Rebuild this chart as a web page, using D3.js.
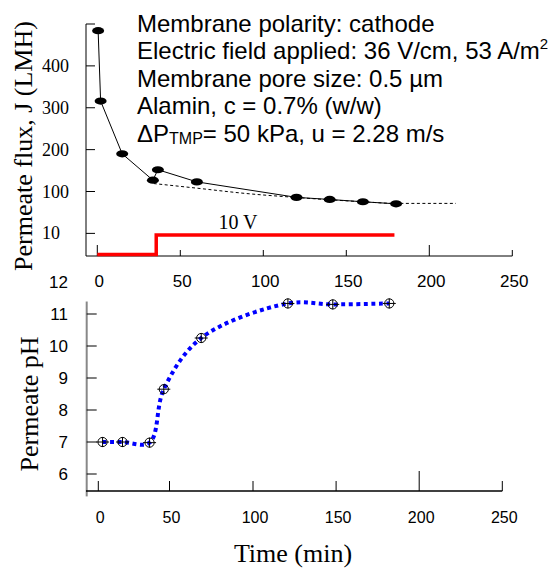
<!DOCTYPE html>
<html>
<head>
<meta charset="utf-8">
<script src="https://cdn.jsdelivr.net/npm/d3@7"></script>
<style>
  body { margin: 0; background: #fff; }
  svg { display: block; }
  .sans { font-family: "Liberation Sans", Arial, sans-serif; }
  .serif { font-family: "Liberation Serif", "Times New Roman", serif; }
</style>
</head>
<body>
<svg id="chart" width="552" height="570"></svg>
<script>
"use strict";

// flux panel
const fluxTime = [0.5, 2, 15, 33.5, 36.5, 60, 120, 140, 160, 180];
const fluxValue = [484, 316, 190, 127, 152, 123, 86, 81, 75.5, 70.6];
const fitTime = [34, 60, 89, 119, 137, 160, 180, 216];
const fitValue = [119, 108, 95.5, 86, 81, 75.5, 71.6, 71.6];
const voltTime = [0, 35.5, 35.5, 179];
const voltValue = [0, 0, 10, 10];
const fluxTicks = [0, 100, 200, 300, 400, 500];
const fluxTickLabels = ["10", "100", "200", "300", "400", ""];

// pH panel
const phTime = [3, 17, 36, 46, 69, 121, 148, 182];
const phValue = [7.0, 7.0, 6.98, 8.65, 10.25, 11.33, 11.3, 11.33];
const phTicks = [6, 7, 8, 9, 10, 11, 12];
const timeTicks = [0, 50, 100, 150, 200, 250];

const infoLines = [
    ["Membrane polarity: cathode"],
    ["Electric field applied: 36 V/cm, 53 A/m", "2"],
    ["Membrane pore size: 0.5 µm"],
    ["Alamin, c = 0.7% (w/w)"],
    ["ΔP", "TMP", "= 50 kPa, u = 2.28 m/s"],
];

const svg = d3.select("#chart");

// ---------- top panel ----------
const xTop = d3.scaleLinear().domain([0, 250]).range([97.3, 512.3]);
const yFlux = d3.scaleLinear().domain([-54, 500]).range([256, 24]);
const yVolt = d3.scaleLinear().domain([0, 10]).range([254.5, 235]);
const axisX0 = 86;

const fluxPanel = svg.append("g");

// axes
fluxPanel.append("line")
    .attr("x1", axisX0).attr("x2", axisX0)
    .attr("y1", yFlux(500)).attr("y2", yFlux(-54))
    .attr("stroke", "#000").attr("stroke-width", 1);
fluxPanel.append("line")
    .attr("x1", axisX0).attr("x2", xTop(250))
    .attr("y1", yFlux(-54)).attr("y2", yFlux(-54))
    .attr("stroke", "#000").attr("stroke-width", 1);

fluxPanel.selectAll(".ytick").data(fluxTicks).enter().append("line")
    .attr("x1", axisX0).attr("x2", axisX0 + 9)
    .attr("y1", d => yFlux(d)).attr("y2", d => yFlux(d))
    .attr("stroke", "#000");
fluxPanel.selectAll(".ylab").data(fluxTicks).enter().append("text")
    .attr("class", "serif")
    .attr("x", 42)
    .attr("y", d => yFlux(d) + 6)
    .attr("font-size", 18)
    .text((d, i) => fluxTickLabels[i]);

fluxPanel.selectAll(".xtick").data(timeTicks).enter().append("line")
    .attr("x1", d => xTop(d)).attr("x2", d => xTop(d))
    .attr("y1", yFlux(-54))
    .attr("y2", d => yFlux(-54) - (d === 0 || d === 200 ? 11 : 6))
    .attr("stroke", "#000");
fluxPanel.selectAll(".xlab").data(timeTicks).enter().append("text")
    .attr("class", "sans")
    .attr("x", d => xTop(d) + 2)
    .attr("y", 287)
    .attr("text-anchor", "middle")
    .attr("font-size", 17)
    .text(d => d);

// red voltage step
fluxPanel.append("path")
    .datum(voltTime.map((t, i) => [t, voltValue[i]]))
    .attr("d", d3.line().x(d => xTop(d[0])).y(d => yVolt(d[1])))
    .attr("fill", "none")
    .attr("stroke", "#ff0000")
    .attr("stroke-width", 3.5);

fluxPanel.append("text")
    .attr("class", "serif")
    .attr("x", 238).attr("y", 229)
    .attr("text-anchor", "middle")
    .attr("font-size", 20)
    .text("10 V");

// dashed fit
fluxPanel.append("path")
    .datum(fitTime.map((t, i) => [t, fitValue[i]]))
    .attr("d", d3.line().curve(d3.curveMonotoneX).x(d => xTop(d[0])).y(d => yFlux(d[1])))
    .attr("fill", "none")
    .attr("stroke", "#000")
    .attr("stroke-width", 1)
    .attr("stroke-dasharray", "3,2.5");

// flux line + markers
const fluxData = fluxTime.map((t, i) => [t, fluxValue[i]]);
fluxPanel.append("path")
    .datum(fluxData)
    .attr("d", d3.line().x(d => xTop(d[0])).y(d => yFlux(d[1])))
    .attr("fill", "none")
    .attr("stroke", "#000")
    .attr("stroke-width", 1);
fluxPanel.selectAll(".pt").data(fluxData).enter().append("ellipse")
    .attr("cx", d => xTop(d[0]))
    .attr("cy", d => yFlux(d[1]))
    .attr("rx", 6).attr("ry", 3.6)
    .attr("fill", "#000");

// info text
const info = fluxPanel.append("text")
    .attr("class", "sans")
    .attr("font-size", 24)
    .attr("fill", "#000");
infoLines.forEach((parts, i) => {
    const y = 31.7 + i * 27.5;
    info.append("tspan").attr("x", 137).attr("y", y).text(parts[0]);
    if (i === 1) {
        info.append("tspan").attr("dy", -10).attr("font-size", 15).text(parts[1]);
    }
    if (i === 4) {
        info.append("tspan").attr("dy", 2).attr("font-size", 16).text(parts[1]);
        info.append("tspan").attr("dy", -2).text(parts[2]);
    }
});

// y title
fluxPanel.append("text")
    .attr("class", "serif")
    .attr("transform", "translate(32,146) rotate(-90)")
    .attr("text-anchor", "middle")
    .attr("font-size", 26)
    .text("Permeate flux, J (LMH)");

// ---------- bottom panel ----------
const xBot = d3.scaleLinear().domain([0, 50, 100, 250]).range([98.3, 169.5, 253, 502.3]);
const yPh = d3.scaleLinear().domain([6, 11]).range([474, 314]);
const botAxisY = 491;

const phPanel = svg.append("g");

phPanel.append("line")
    .attr("x1", 86.7).attr("x2", 86.7)
    .attr("y1", yPh(11.39)).attr("y2", yPh(5.3))
    .attr("stroke", "#888").attr("stroke-width", 2);
phPanel.append("line")
    .attr("x1", 86).attr("x2", xBot(250))
    .attr("y1", botAxisY).attr("y2", botAxisY)
    .attr("stroke", "#000").attr("stroke-width", 1.5);

phPanel.selectAll(".ytick").data(phTicks.filter(d => d <= 11)).enter().append("line")
    .attr("x1", 86.7).attr("x2", 96.7)
    .attr("y1", d => yPh(d)).attr("y2", d => yPh(d))
    .attr("stroke", "#000");
phPanel.selectAll(".ylab").data(phTicks).enter().append("text")
    .attr("class", "sans")
    .attr("x", 68)
    .attr("y", d => yPh(d) + 6)
    .attr("text-anchor", "end")
    .attr("font-size", 17)
    .text(d => d);

phPanel.selectAll(".xtick").data(timeTicks).enter().append("line")
    .attr("x1", d => xBot(d)).attr("x2", d => xBot(d))
    .attr("y1", botAxisY)
    .attr("y2", d => botAxisY - (d === 200 ? 20 : 10))
    .attr("stroke", "#000");
phPanel.selectAll(".xlab").data(timeTicks).enter().append("text")
    .attr("class", "sans")
    .attr("x", d => xBot(d) + 2)
    .attr("y", 523)
    .attr("text-anchor", "middle")
    .attr("font-size", 16)
    .text(d => d);

const phData = phTime.map((t, i) => [t, phValue[i]]);
phPanel.append("path")
    .datum(phData)
    .attr("d", d3.line().curve(d3.curveCatmullRom.alpha(0.5)).x(d => xBot(d[0])).y(d => yPh(d[1])))
    .attr("fill", "none")
    .attr("stroke", "#0000ff")
    .attr("stroke-width", 4)
    .attr("stroke-dasharray", "4,3.5");

const mk = phPanel.selectAll(".mk").data(phData).enter().append("g")
    .attr("transform", d => `translate(${xBot(d[0])},${yPh(d[1])})`);
mk.append("circle").attr("r", 4.6).attr("fill", "none").attr("stroke", "#000").attr("stroke-width", 1);
mk.append("line").attr("x1", -6.5).attr("x2", 6.5).attr("stroke", "#000").attr("stroke-width", 1);
mk.append("line").attr("y1", -5).attr("y2", 5).attr("stroke", "#000").attr("stroke-width", 1);

phPanel.append("text")
    .attr("class", "serif")
    .attr("transform", "translate(38,404) rotate(-90)")
    .attr("text-anchor", "middle")
    .attr("font-size", 26)
    .text("Permeate pH");

phPanel.append("text")
    .attr("class", "serif")
    .attr("x", 293).attr("y", 562)
    .attr("text-anchor", "middle")
    .attr("font-size", 26)
    .text("Time (min)");
</script>
</body>
</html>
